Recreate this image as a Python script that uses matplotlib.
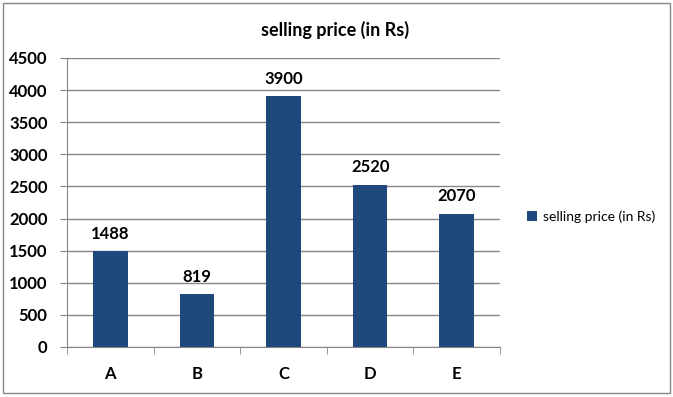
import matplotlib.pyplot as plt
from matplotlib.patches import Rectangle

categories = ['A', 'B', 'C', 'D', 'E']
prices = [1488, 819, 3900, 2520, 2070]
yticks = [0, 500, 1000, 1500, 2000, 2500, 3000, 3500, 4000, 4500]
series_name = 'selling price (in Rs)'

plt.rcParams['font.family'] = ['Lato', 'DejaVu Sans']
bar_color = '#1F497D'
grid_color = '#868686'

fig = plt.figure(figsize=(6.73, 3.97), dpi=100)
fig.patches.append(Rectangle((0.005, 0.01), 0.99, 0.982, transform=fig.transFigure,
                             fill=False, edgecolor='#868686', linewidth=1))
ax = fig.add_axes([0.0996, 0.126, 0.6434, 0.728])

x = list(range(len(categories)))
bars = ax.bar(x, prices, width=0.4, color=bar_color, label=series_name, zorder=3)
for xi, v in zip(x, prices):
    ax.text(xi, v + 150, str(v), ha='center', va='bottom', fontsize=12, fontweight='bold')

ax.set_xlim(-0.5, len(categories) - 0.5)
ax.set_ylim(0, 4500)
ax.set_yticks(yticks)
ax.set_yticklabels([str(t) for t in yticks], fontsize=12, fontweight='bold')
ax.yaxis.grid(True, color=grid_color, linewidth=1, zorder=0)
ax.tick_params(axis='y', length=5, color=grid_color, pad=9)

ax.set_xticks(x)
ax.set_xticklabels(categories, fontsize=12, fontweight='bold')
ax.tick_params(axis='x', length=0, pad=14)
ax.set_xticks([i - 0.5 for i in range(len(categories) + 1)], minor=True)
ax.tick_params(axis='x', which='minor', length=5, color=grid_color)

for side in ['top', 'right']:
    ax.spines[side].set_visible(False)
ax.spines['left'].set_color(grid_color)
ax.spines['bottom'].set_color(grid_color)

fig.text(0.498, 0.925, series_name, ha='center', va='center', fontsize=13, fontweight='bold')
fig.legend(handles=[bars], labels=[series_name], loc='center left',
           bbox_to_anchor=(0.765, 0.455), frameon=False, fontsize=10,
           handlelength=0.7, handleheight=0.7, handletextpad=0.4)

fig.savefig('out.png', dpi=100)
